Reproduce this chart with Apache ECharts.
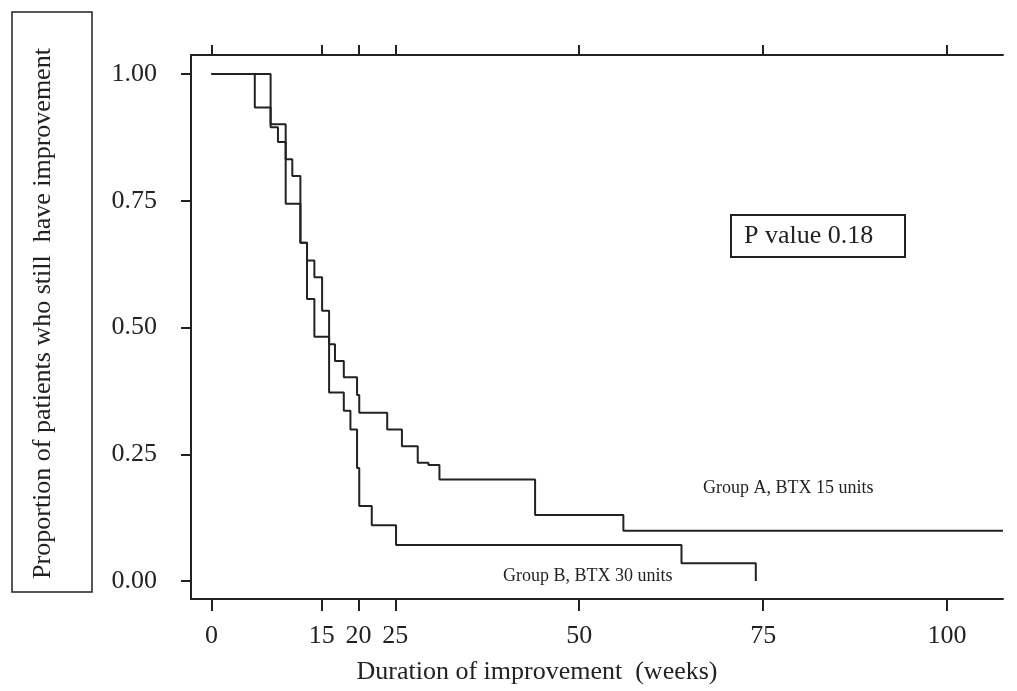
<!DOCTYPE html>
<html>
<head>
<meta charset="utf-8">
<script src="https://cdn.jsdelivr.net/npm/echarts@6/dist/echarts.min.js"></script>
<style>
  html, body { margin: 0; padding: 0; background: #fff; }
  #main { width: 1017px; height: 691px; }
</style>
</head>
<body>
<div id="main"></div>
<script>
// Kaplan-Meier steps: [weeks, proportion] after each event
var groupA = [
  [0, 1.0], [8.05, 0.901], [10.1, 0.832], [11.0, 0.799], [12.1, 0.667],
  [13.0, 0.632], [14.0, 0.599], [15.05, 0.533], [16.0, 0.467], [16.8, 0.434],
  [18.0, 0.402], [19.8, 0.367], [20.1, 0.332], [23.9, 0.299], [25.9, 0.266],
  [28.05, 0.233], [29.5, 0.229], [31.0, 0.200], [44.0, 0.130], [56.0, 0.099],
  [107.6, 0.099]
];
var groupB = [
  [0, 1.0], [5.9, 0.934], [8.05, 0.895], [9.05, 0.866], [10.1, 0.744],
  [12.1, 0.667], [13.0, 0.556], [14.0, 0.482], [16.0, 0.372], [18.0, 0.336],
  [18.9, 0.299], [19.8, 0.223], [20.1, 0.148], [21.8, 0.110], [25.1, 0.071],
  [63.9, 0.035], [74.0, 0.0]
];
var xTicks = [0, 15, 20, 25, 50, 75, 100];
var yTicks = [0, 0.25, 0.5, 0.75, 1];
var seriesNames = ['Group A, BTX 15 units', 'Group B, BTX 30 units'];

var ink = '#222';
var font = 'Liberation Serif';

var chart = echarts.init(document.getElementById('main'));

var option = {
  backgroundColor: '#fff',
  animation: false,
  grid: { left: 191, right: 14, top: 55, bottom: 92 },
  xAxis: [
    {
      type: 'value', position: 'bottom',
      min: -2.77, max: 107.6,
      splitLine: { show: false },
      axisLine: { onZero: false, lineStyle: { color: ink, width: 2 } },
      axisTick: { customValues: xTicks, length: 12, lineStyle: { color: ink, width: 2 } },
      axisLabel: {
        customValues: xTicks, margin: 24,
        color: ink, fontFamily: font, fontSize: 26
      },
      name: 'Duration of improvement  (weeks)',
      nameLocation: 'middle', nameGap: 60,
      nameTextStyle: { color: ink, fontFamily: font, fontSize: 26, padding: [0, 120, 0, 0] }
    },
    {
      type: 'value', position: 'top',
      min: -2.77, max: 107.6,
      splitLine: { show: false },
      axisLine: { onZero: false, lineStyle: { color: ink, width: 2 } },
      axisTick: { customValues: xTicks, length: 10, lineStyle: { color: ink, width: 2 } },
      axisLabel: { show: false }
    }
  ],
  yAxis: {
    type: 'value',
    min: -0.0355, max: 1.0375,
    splitLine: { show: false },
    axisLine: { show: true, onZero: false, lineStyle: { color: ink, width: 2 } },
    axisTick: { show: true, customValues: yTicks, length: 10, lineStyle: { color: ink, width: 2 } },
    axisLabel: {
      customValues: yTicks, margin: 34,
      color: ink, fontFamily: font, fontSize: 26,
      formatter: function (v) { return v.toFixed(2); }
    },
    name: 'Proportion of patients who still  have improvement',
    nameLocation: 'middle', nameGap: 135,
    nameTextStyle: { color: ink, fontFamily: font, fontSize: 26, padding: [0, 0, 0, 27] }
  },
  series: [
    {
      name: seriesNames[0], type: 'line', step: 'end', data: groupA,
      symbol: 'none', lineStyle: { color: ink, width: 2 }
    },
    {
      name: seriesNames[1], type: 'line', step: 'end', data: groupB,
      symbol: 'none', lineStyle: { color: ink, width: 2 }
    }
  ],
  graphic: [
    {
      type: 'rect', shape: { x: 12, y: 12, width: 80, height: 580 },
      style: { fill: 'none', stroke: ink, lineWidth: 1.5 }
    },
    {
      type: 'rect', shape: { x: 731, y: 215, width: 174, height: 42 },
      style: { fill: '#fff', stroke: ink, lineWidth: 2 }
    },
    {
      type: 'text', x: 744, y: 236,
      style: { text: 'P value 0.18', fill: ink, font: '26px "Liberation Serif"', verticalAlign: 'middle' }
    },
    {
      type: 'text', x: 703, y: 488,
      style: { text: seriesNames[0], fill: ink, font: '18px "Liberation Serif"', verticalAlign: 'middle' }
    },
    {
      type: 'text', x: 503, y: 576,
      style: { text: seriesNames[1], fill: ink, font: '18px "Liberation Serif"', verticalAlign: 'middle' }
    }
  ]
};

chart.setOption(option);
</script>
</body>
</html>
